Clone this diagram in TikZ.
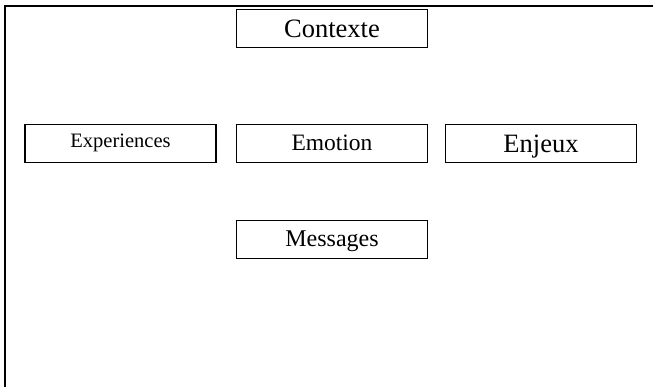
\documentclass[tikz,border=0pt]{standalone}
\usepackage{fontspec}
\setmainfont{Liberation Serif}
\begin{document}
\begin{tikzpicture}[x=1pt,y=-1pt,
  boxnode/.style={draw=black,line width=1.5pt,rectangle,minimum width=191pt,minimum height=38pt,inner sep=0pt,anchor=center,text=black,text depth=0pt},
  frameline/.style={draw=black,line width=2.2pt}]
\useasboundingbox (0,0) rectangle (653,387);
\coordinate (ftr) at (653,6);
\coordinate (ftl) at (5,6);
\coordinate (fbl) at (5,387);
\draw[frameline] (ftr) -- (ftl) -- (fbl);
\node[boxnode,text height=18.4pt] (contexte) at (332,28.5) {\fontsize{26.5pt}{28pt}\selectfont Contexte};
\node[boxnode,text height=7.6pt] (experiences) at (120.5,143.5) {\fontsize{20.5pt}{22pt}\selectfont Experiences};
\node[boxnode,text height=14.4pt] (emotion) at (332,143.5) {\fontsize{23.5pt}{25pt}\selectfont Emotion};
\node[boxnode,text height=19pt] (enjeux) at (541,143.5) {\fontsize{26.5pt}{28pt}\selectfont Enjeux};
\node[boxnode,text height=14.4pt] (messages) at (332,239.5) {\fontsize{24pt}{25pt}\selectfont Messages};
\end{tikzpicture}
\end{document}
